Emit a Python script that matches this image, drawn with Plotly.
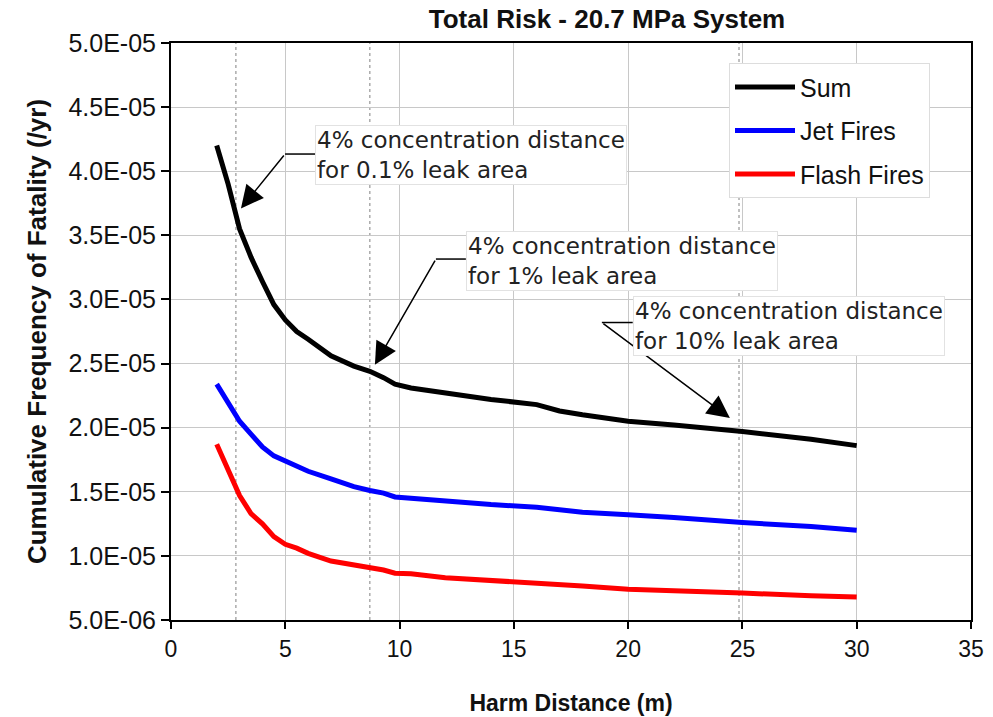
import plotly.graph_objects as go

# ---- data ----
distance = [2, 2.5, 3, 3.5, 4, 4.5, 5, 5.5, 6, 7, 8, 8.7, 9.3, 9.8, 10.5, 12, 14, 16, 17, 18, 20, 22, 25, 28, 30]
sum_risk = [42.0, 39.0, 35.5, 33.3, 31.4, 29.6, 28.4, 27.5, 26.9, 25.6, 24.8, 24.4, 23.9, 23.4, 23.1, 22.7, 22.2, 21.8, 21.3, 21.0, 20.5, 20.2, 19.7, 19.1, 18.6]
jet_fires = [23.4, 22.0, 20.5, 19.5, 18.5, 17.8, 17.4, 17.0, 16.6, 16.0, 15.4, 15.1, 14.9, 14.6, 14.5, 14.2, 14.0, 13.8, 13.6, 13.4, 13.2, 13.0, 12.6, 12.3, 12.0]
flash_fires = [18.7, 16.8, 14.7, 13.3, 12.5, 11.5, 10.9, 10.6, 10.2, 9.6, 9.3, 9.1, 8.9, 8.65, 8.6, 8.3, 8.1, 7.9, 7.8, 7.65, 7.4, 7.3, 7.1, 6.9, 6.8]
scale = 1e-6

series_names = ["Sum", "Jet Fires", "Flash Fires"]
series_colors = ["black", "#0000ff", "#ff0000"]

leak_distances = [2.84, 8.7, 24.85]  # 4% concentration distances
leak_labels = ["0.1%", "1%", "10%"]

x_ticks = [0, 5, 10, 15, 20, 25, 30, 35]
y_ticks = [5e-6, 1e-5, 1.5e-5, 2e-5, 2.5e-5, 3e-5, 3.5e-5, 4e-5, 4.5e-5, 5e-5]
y_ticktext = [f"{v:.1E}" for v in y_ticks]

# annotation geometry (data units): text box top-left, elbow, arrow tip
box_x = [6.3, 12.9, 20.2]
box_y = [43.6e-6, 35.3e-6, 30.3e-6]
elbow_x = [4.99, 11.59, 18.85]
elbow_y = [41.34e-6, 33.15e-6, 28.2e-6]
tip_x = [3.06, 8.92, 24.45]
tip_y = [37.1e-6, 24.9e-6, 20.75e-6]

fig = go.Figure()
for name, vals, col in zip(series_names, [sum_risk, jet_fires, flash_fires], series_colors):
    fig.add_trace(go.Scatter(
        x=distance, y=[v * scale for v in vals], mode="lines", name=name,
        line=dict(color=col, width=5), legendgroup=name,
    ))

shapes = []
for xd in leak_distances:
    shapes.append(dict(type="line", xref="x", yref="paper", x0=xd, x1=xd, y0=0, y1=1,
                       line=dict(color="#808080", width=1, dash="dot"), layer="below"))
annotations = []
for i in range(3):
    shapes.append(dict(type="line", xref="x", yref="y", x0=elbow_x[i], x1=box_x[i],
                       y0=elbow_y[i], y1=elbow_y[i], line=dict(color="black", width=1.5)))
    annotations.append(dict(
        x=tip_x[i], y=tip_y[i], ax=elbow_x[i], ay=elbow_y[i], xref="x", yref="y",
        axref="x", ayref="y", text="", showarrow=True, arrowhead=2, arrowsize=3,
        arrowwidth=1.5, arrowcolor="black", standoff=0,
    ))
    annotations.append(dict(
        x=box_x[i], y=box_y[i], xref="x", yref="y", xanchor="left", yanchor="top",
        text=f"4% concentration distance<br>for {leak_labels[i]} leak area",
        showarrow=False, align="left", bgcolor="white", bordercolor="#e2e2e2",
        borderwidth=1, borderpad=1,
        font=dict(family="DejaVu Sans", size=23, color="#222222"),
    ))

fig.update_layout(
    width=993, height=717,
    margin=dict(l=171, r=22, t=43, b=97),
    paper_bgcolor="white", plot_bgcolor="white",
    title=dict(text="<b>Total Risk - 20.7 MPa System</b>", x=0.545, xref="paper", xanchor="center",
               y=0.974, yref="container", yanchor="middle",
               font=dict(family="Liberation Sans, Arial", size=26, color="#111111")),
    showlegend=True,
    legend=dict(x=0.6975, y=0.965, xanchor="left", yanchor="top", bgcolor="white",
                bordercolor="#dddddd", borderwidth=1, tracegroupgap=8, itemwidth=60,
                font=dict(family="Liberation Sans, Arial", size=25, color="#111111")),
    shapes=shapes, annotations=annotations,
)
fig.update_xaxes(
    range=[0, 35], tickvals=x_ticks, ticktext=[str(v) for v in x_ticks],
    showgrid=True, gridcolor="#c8c8c8", gridwidth=1, zeroline=False,
    showline=True, linecolor="black", linewidth=2, mirror=True, automargin=False,
    ticks="outside", ticklen=7, tickwidth=1.5, tickcolor="black",
    tickfont=dict(family="Liberation Sans, Arial", size=23, color="#111111"),
    title=dict(text="<b>Harm Distance (m)</b>", standoff=34,
               font=dict(family="Liberation Sans, Arial", size=23, color="#111111")),
)
fig.update_yaxes(
    range=[5e-6, 5e-5], tickvals=y_ticks, ticktext=y_ticktext,
    showgrid=True, gridcolor="#c8c8c8", gridwidth=1, zeroline=False,
    showline=True, linecolor="black", linewidth=2, mirror=True, automargin=False,
    ticks="outside", ticklen=8, tickwidth=1.5, tickcolor="black",
    tickfont=dict(family="Liberation Sans, Arial", size=25, color="#111111"),
    title=dict(text="<b>Cumulative Frequency of Fatality (/yr)</b>", standoff=14,
               font=dict(family="Liberation Sans, Arial", size=26, color="#111111")),
)

fig.write_html("out.html")
